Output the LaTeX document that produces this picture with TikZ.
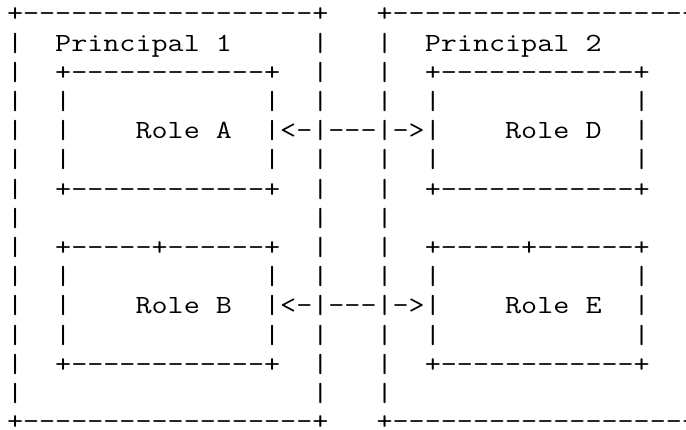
\documentclass[tikz,border=0pt]{standalone}
\usepackage{fontspec}
\setmonofont[FakeStretch=1.191]{Latin Modern Mono}
\tikzset{
  asciirow/.style={anchor=base west, inner sep=0pt, outer sep=0pt,
    font=\ttfamily\fontsize{26.2pt}{29.2pt}\selectfont, text=black}
}
\begin{document}
\begin{tikzpicture}[x=1pt,y=1pt]
\clip (0,0) rectangle (686,-430);
\fill[white] (0,0) rectangle (686,-430);
\node[asciirow] (r0)  at (7,-22.0)  {+------------------+~~~+------------------------};
\node[asciirow] (r1)  at (7,-51.2)  {|~~Principal~1~~~~~|~~~|~~Principal~2};
\node[asciirow] (r2)  at (7,-80.4)  {|~~+------------+~~|~~~|~~+------------+};
\node[asciirow] (r3)  at (7,-109.6) {|~~|~~~~~~~~~~~~|~~|~~~|~~|~~~~~~~~~~~~|};
\node[asciirow] (r4)  at (7,-138.8) {|~~|~~~~Role~A~~|<-|---|->|~~~~Role~D~~|};
\node[asciirow] (r5)  at (7,-168.0) {|~~|~~~~~~~~~~~~|~~|~~~|~~|~~~~~~~~~~~~|};
\node[asciirow] (r6)  at (7,-197.2) {|~~+------------+~~|~~~|~~+------------+};
\node[asciirow] (r7)  at (7,-226.4) {|~~~~~~~~~~~~~~~~~~|~~~|};
\node[asciirow] (r8)  at (7,-255.6) {|~~+-----+------+~~|~~~|~~+-----+------+};
\node[asciirow] (r9)  at (7,-284.8) {|~~|~~~~~~~~~~~~|~~|~~~|~~|~~~~~~~~~~~~|};
\node[asciirow] (r10) at (7,-314.0) {|~~|~~~~Role~B~~|<-|---|->|~~~~Role~E~~|};
\node[asciirow] (r11) at (7,-343.2) {|~~|~~~~~~~~~~~~|~~|~~~|~~|~~~~~~~~~~~~|};
\node[asciirow] (r12) at (7,-372.4) {|~~+------------+~~|~~~|~~+------------+};
\node[asciirow] (r13) at (7,-401.6) {|~~~~~~~~~~~~~~~~~~|~~~|};
\node[asciirow] (r14) at (7,-430.0) {+------------------+~~~+------------------------};
\end{tikzpicture}
\end{document}
